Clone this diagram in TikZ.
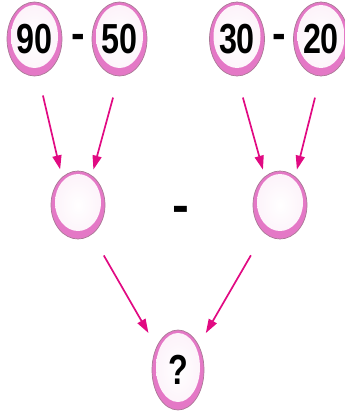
\documentclass[tikz,border=0pt]{standalone}
\usepackage{fontspec}
\setmainfont{Liberation Sans}
\usetikzlibrary{shapes.geometric,arrows.meta,calc}
\definecolor{rimpink}{RGB}{228,120,198}
\definecolor{rimline}{RGB}{170,120,150}
\definecolor{arrowpink}{RGB}{225,10,130}
\tikzset{
  bubble/.style={ellipse, draw=rimline, line width=0.7pt, fill=rimpink,
    minimum width=55pt, minimum height=74pt, inner sep=0pt,
    font=\fontsize{42}{42}\selectfont\bfseries,
    path picture={\fill[inner color=white, outer color=rimpink!10]
      let \p1=(path picture bounding box.north east),
          \p2=(path picture bounding box.south west) in
      ($(\p1)!0.5!(\p2)+(0,2.5pt)$) ellipse ({(\x1-\x2)/2-4pt} and {(\y1-\y2)/2-5.5pt});}},
  sign/.style={font=\fontsize{34}{34}\selectfont\bfseries},
  arr/.style={arrowpink, line width=1.7pt, -{Triangle[length=14pt,width=9pt]}}
}
\begin{document}
\begin{tikzpicture}[x=1pt,y=-1pt]
  \useasboundingbox (0,0) rectangle (345,412);
  % top row
  \node[bubble] (n90) at (34.5,39) {\scalebox{0.77}[1]{90}};
  \node[sign] (s1) at (78,41) {\scalebox{1.2}[1.3]{-}};
  \node[bubble] (n50) at (119.5,39) {\scalebox{0.77}[1]{50}};
  \node[bubble] (n30) at (237,39) {\scalebox{0.77}[1]{30}};
  \node[sign] (s2) at (279,41) {\scalebox{1.2}[1.3]{-}};
  \node[bubble] (n20) at (321,39) {\scalebox{0.77}[1]{20}};
  % middle row
  \node[bubble, minimum width=54pt, minimum height=68pt] (mL) at (78,205) {};
  \node[sign, font=\fontsize{44}{44}\selectfont\bfseries] (s3) at (181,214) {\scalebox{1.15}[1.15]{-}};
  \node[bubble, minimum width=54pt, minimum height=68pt] (mR) at (280,205) {};
  % bottom
  \node[bubble, minimum width=52pt, minimum height=80pt] (q) at (178,370) {\scalebox{0.77}[1]{?}};
  % arrows
  \draw[arr, shorten <=20pt, shorten >=8pt] (n90.-84) -- (mL.120);
  \draw[arr, shorten <=22pt, shorten >=6pt] (n50.-91) -- (mL.65);
  \draw[arr, shorten <=22pt, shorten >=7pt] (n30.-90) -- (mR.118);
  \draw[arr, shorten <=22pt, shorten >=7pt] (n20.-91) -- (mR.62);
  \draw[arr, shorten <=24pt, shorten >=16pt] (mL.-65) -- (q.133);
  \draw[arr, shorten <=26pt, shorten >=14pt] (mR.-120) -- (q.50);
\end{tikzpicture}
\end{document}
